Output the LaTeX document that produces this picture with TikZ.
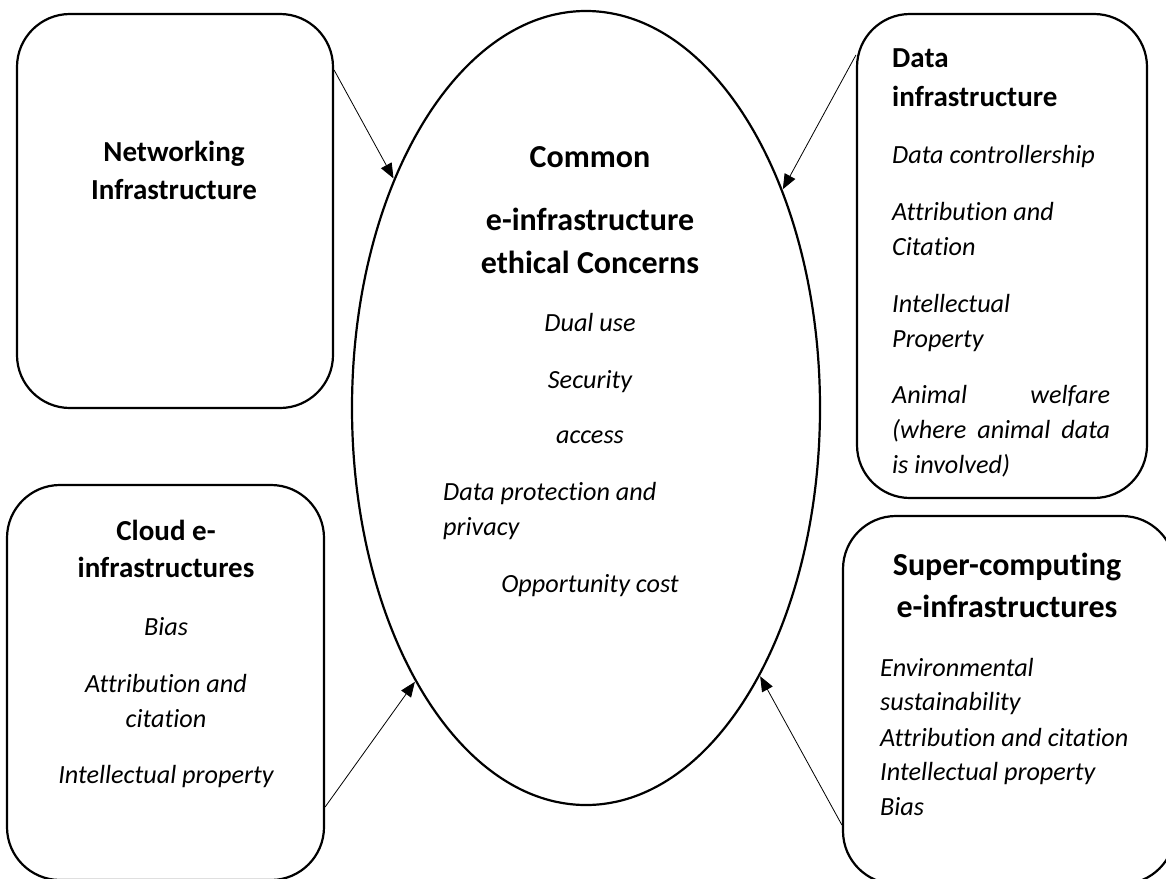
\documentclass[tikz,border=0pt]{standalone}
\usepackage{fontspec}
\setmainfont{Carlito}[Ligatures=NoCommon]
\usetikzlibrary{shapes.geometric,arrows.meta}
\tikzset{
  box/.style={draw, line width=2.2pt, rounded corners=53pt, inner sep=0pt},
  ttl/.style={font=\bfseries\fontsize{29}{35}\selectfont, inner sep=0pt},
  bigttl/.style={font=\bfseries\fontsize{32}{38}\selectfont, inner sep=0pt},
  itm/.style={font=\itshape\fontsize{26.2}{35}\selectfont, inner sep=0pt},
  arr/.style={-{Triangle[length=15pt,width=12pt]}, line width=0.8pt, shorten >=0.5pt}
}
\begin{document}
\begin{tikzpicture}[x=1pt,y=-1pt]
\useasboundingbox (0,0) rectangle (1166,878);
% shapes
\node[draw, ellipse, line width=2.2pt, minimum width=468pt, minimum height=794pt, inner sep=0pt] (ell) at (586,408) {};
\node[box, minimum width=316pt, minimum height=394pt] (net) at (175,211) {};
\node[box, minimum width=290pt, minimum height=484pt] (data) at (1002,256) {};
\node[box, minimum width=317pt, minimum height=395pt] (cloud) at (165.5,682.5) {};
\node[box, minimum width=332pt, minimum height=368pt] (super) at (1009,700) {};
% ellipse text
\node[bigttl, anchor=base] (c1) at (590,167) {Common};
\node[bigttl, anchor=base] (c2) at (590,230) {e-infrastructure};
\node[bigttl, anchor=base] (c3) at (590,273) {ethical Concerns};
\node[itm, anchor=base] (c4) at (590,331) {Dual use};
\node[itm, anchor=base] (c5) at (590,388) {Security};
\node[itm, anchor=base] (c6) at (590,443) {access};
\node[itm, anchor=base west] (c7) at (443,500) {Data protection and};
\node[itm, anchor=base west] (c8) at (443,535) {privacy};
\node[itm, anchor=base] (c9) at (590,592) {Opportunity cost};
% networking
\node[ttl, anchor=base] (n1) at (174,161) {Networking};
\node[ttl, anchor=base] (n2) at (174,199) {Infrastructure};
% data
\node[ttl, anchor=base west] (d1) at (892,67) {Data};
\node[ttl, anchor=base west] (d2) at (892,106) {infrastructure};
\node[itm, anchor=base west] (d3) at (892,163) {Data controllership};
\node[itm, anchor=base west] (d4) at (892,220) {Attribution and};
\node[itm, anchor=base west] (d5) at (892,255) {Citation};
\node[itm, anchor=base west] (d6) at (892,312) {Intellectual};
\node[itm, anchor=base west] (d7) at (892,347) {Property};
\node[itm, anchor=base west] (d8) at (892,403) {\hbox to 218pt{Animal\hfill welfare}};
\node[itm, anchor=base west] (d9) at (892,438) {\hbox to 218pt{(where\hfill animal\hfill data}};
\node[itm, anchor=base west] (d10) at (892,473) {is involved)};
% cloud
\node[ttl, anchor=base] (k1) at (166,540) {Cloud e-};
\node[ttl, anchor=base] (k2) at (166,577) {infrastructures};
\node[itm, anchor=base] (k3) at (166,635) {Bias};
\node[itm, anchor=base] (k4) at (166,692) {Attribution and};
\node[itm, anchor=base] (k5) at (166,727) {citation};
\node[itm, anchor=base] (k6) at (166,783) {Intellectual property};
% super
\node[bigttl, anchor=base] (s1) at (1007,575) {Super-computing};
\node[bigttl, anchor=base] (s2) at (1007,617) {e-infrastructures};
\node[itm, anchor=base west] (s3) at (880,676) {Environmental};
\node[itm, anchor=base west] (s4) at (880,710) {sustainability};
\node[itm, anchor=base west] (s5) at (880,746) {Attribution and citation};
\node[itm, anchor=base west] (s6) at (880,780) {Intellectual property};
\node[itm, anchor=base west] (s7) at (880,815) {Bias};
% connectors
\coordinate (netout) at (net.east |- 0,70);
\coordinate (dataout) at (data.west |- 0,55);
\coordinate (cloudout) at (cloud.east |- 0,807);
\coordinate (superout) at (super.west |- 0,825);
\draw[arr] (netout) -- (ell.130.8);
\draw[arr] (dataout) -- (ell.48.9);
\draw[arr] (cloudout) -- (ell.238.5);
\draw[arr] (superout) -- (ell.303.3);
\end{tikzpicture}
\end{document}
